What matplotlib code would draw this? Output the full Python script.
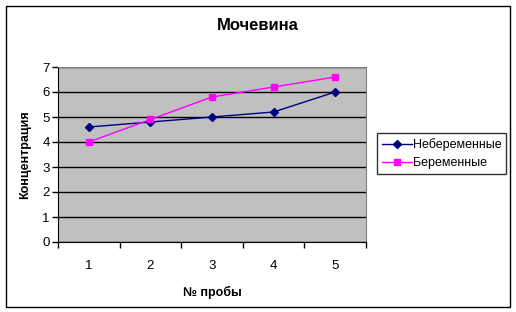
import matplotlib
matplotlib.use("Agg")
import matplotlib.pyplot as plt
from matplotlib.patches import Rectangle

# данные
probes = [1, 2, 3, 4, 5]
nonpregnant = [4.6, 4.8, 5.0, 5.2, 6.0]
pregnant = [4.0, 4.9, 5.8, 6.2, 6.6]
y_ticks = [0, 1, 2, 3, 4, 5, 6, 7]

plt.rcParams['font.family'] = ['Liberation Sans', 'DejaVu Sans']

W, H = 516, 312
fig = plt.figure(figsize=(W / 100, H / 100), dpi=100)

# рамка вокруг всей диаграммы
fig.patches.append(Rectangle((5.5 / W, 1 - 306.5 / H), 504 / W, 301 / H,
                             transform=fig.transFigure, fill=False,
                             edgecolor='black', linewidth=1))

ax = fig.add_axes([58 / W, 1 - 242 / H, 308 / W, 175 / H])
ax.set_facecolor('#C0C0C0')

ax.plot(probes, nonpregnant, color='#000080', marker='D', markersize=4,
        linewidth=1, label='Небеременные')
ax.plot(probes, pregnant, color='#FF00FF', marker='s', markersize=5,
        linewidth=1, label='Беременные')

ax.set_xlim(0.5, 5.5)
ax.set_ylim(0, 7)
ax.set_yticks(y_ticks)
ax.set_xticks(probes)
ax.set_xticks([0.5, 1.5, 2.5, 3.5, 4.5, 5.5], minor=True)
ax.tick_params(axis='x', which='major', length=0, pad=13, labelsize=9.5)
ax.tick_params(axis='x', which='minor', length=4, width=1, direction='out')
ax.tick_params(axis='y', length=4, width=1, direction='out', pad=2, labelsize=9.5)

ax.grid(axis='y', color='black', linewidth=1)
ax.set_axisbelow(True)

for s in ['top', 'right']:
    ax.spines[s].set_color('#808080')
for s in ['left', 'bottom']:
    ax.spines[s].set_color('black')

fig.text(258 / W, 1 - 25 / H, 'Мочевина', fontsize=12, fontweight='bold',
         ha='center', va='center')
ax.set_xlabel('№ пробы', fontsize=9, fontweight='bold', labelpad=10)
ax.set_ylabel('Концентрация', fontsize=9, fontweight='bold', labelpad=8)

leg = fig.legend(loc='upper left', bbox_to_anchor=(377 / W, 1 - 133 / H),
                 fontsize=9, frameon=True, fancybox=False, edgecolor='black',
                 handlelength=2.4, handletextpad=0.05, borderpad=0.4,
                 borderaxespad=0, labelspacing=0.5)
leg.get_frame().set_linewidth(1)
leg._legend_box.sep = 0

fig.savefig('out.png', dpi=100)
